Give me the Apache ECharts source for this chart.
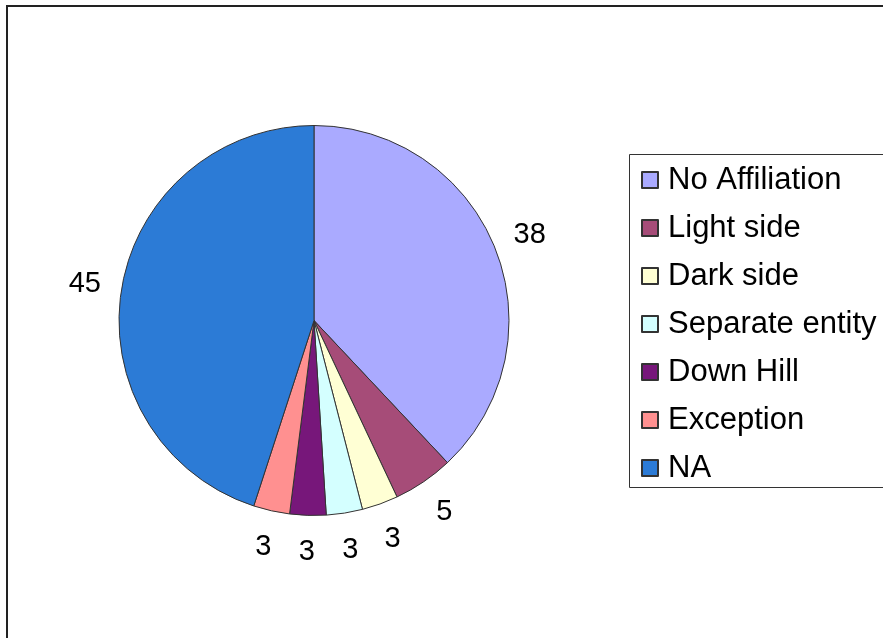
<!DOCTYPE html>
<html>
<head>
<meta charset="utf-8">
<script src="https://cdn.jsdelivr.net/npm/echarts@6/dist/echarts.min.js"></script>
<style>
html,body{margin:0;padding:0;background:#fff;}
#chart{width:883px;height:638px;}
</style>
</head>
<body>
<div id="chart"></div>
<script>
const categories = ['No Affiliation', 'Light side', 'Dark side', 'Separate entity', 'Down Hill', 'Exception', 'NA'];
const values = [38, 5, 3, 3, 3, 3, 45];
const colors = ['#aaaaff', '#a64c78', '#ffffd4', '#d4ffff', '#77177a', '#ff9090', '#2c7bd6'];

const chart = echarts.init(document.getElementById('chart'), null, {renderer: 'canvas'});
const font = '"Liberation Sans", Arial, sans-serif';
const pieData = categories.map((c, i) => ({name: c, value: values[i], itemStyle: {color: colors[i]}}));
const labelData = categories.map((c, i) => ({name: c, value: values[i]}));

chart.setOption({
  animation: false,
  backgroundColor: '#ffffff',
  graphic: [
    {type: 'rect', shape: {x: 7, y: 6, width: 1000, height: 800}, style: {fill: 'none', stroke: '#222', lineWidth: 2}, silent: true},
    {type: 'rect', shape: {x: 629.5, y: 154.5, width: 400, height: 333}, style: {fill: '#fff', stroke: '#333', lineWidth: 1}, silent: true, z: -1}
  ],
  legend: {
    orient: 'vertical',
    left: 641,
    top: 164,
    padding: 0,
    itemWidth: 16,
    itemHeight: 16,
    itemGap: 16,
    icon: 'rect',
    data: categories,
    selectedMode: false,
    textStyle: {fontFamily: font, fontSize: 31, color: '#000', lineHeight: 32, padding: [0, 0, 0, 5]}
  },
  series: [
    {
      type: 'pie',
      center: [314, 320.5],
      radius: [0, 195],
      startAngle: 90,
      clockwise: true,
      silent: true,
      label: {show: false},
      labelLine: {show: false},
      itemStyle: {borderColor: '#333', borderWidth: 1},
      emphasis: {disabled: true},
      data: pieData
    },
    {
      type: 'pie',
      center: [314, 320.5],
      radius: [212, 246],
      startAngle: 90,
      clockwise: true,
      silent: true,
      itemStyle: {color: 'rgba(0,0,0,0)', borderWidth: 0},
      label: {show: true, position: 'inside', formatter: '{c}', fontFamily: font, fontSize: 29, color: '#000'},
      labelLine: {show: false},
      emphasis: {disabled: true},
      data: labelData
    }
  ]
});
</script>
</body>
</html>
